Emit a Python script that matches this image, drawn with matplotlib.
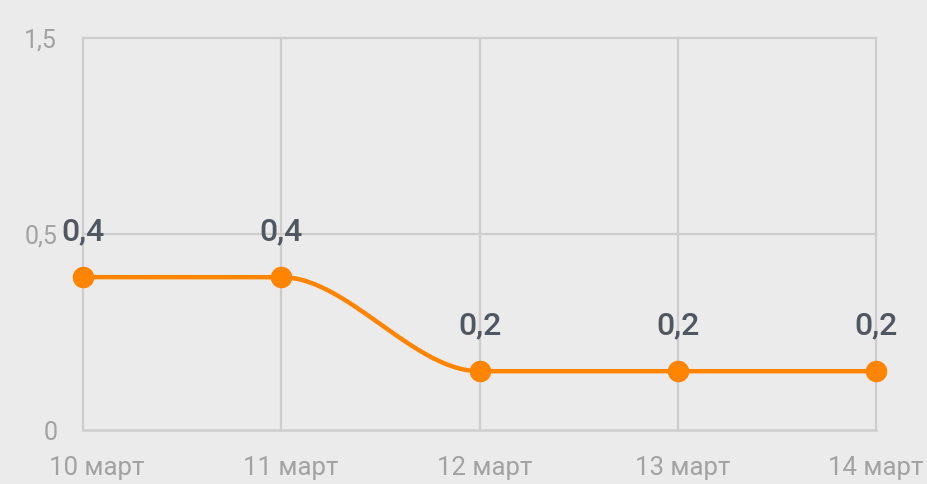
# line chart: daily values for 10-14 march with a smooth monotone curve

import numpy as np
import matplotlib
matplotlib.use("Agg")
import matplotlib.pyplot as plt
from matplotlib.transforms import ScaledTranslation

# data
days = ["10 март", "11 март", "12 март", "13 март", "14 март"]
values = [0.39, 0.39, 0.15, 0.15, 0.15]
value_labels = ["0,4", "0,4", "0,2", "0,2", "0,2"]
y_ticks = [0, 0.5, 1.5]
y_tick_labels = ["0", "0,5", "1,5"]

BG = "#ebebeb"
GRID = "#cdcdcd"
TICK = "#a2a2a2"
LABEL = "#505760"
ORANGE = "#ff8400"


# monotone cubic curve through the points (same idea as d3 curveMonotoneX)
def monotone_curve(x, y, n=60):
    x = np.asarray(x, float)
    y = np.asarray(y, float)
    h = np.diff(x)
    s = np.diff(y) / h
    m = np.zeros(len(x))
    for i in range(1, len(x) - 1):
        p = (s[i - 1] * h[i] + s[i] * h[i - 1]) / (h[i - 1] + h[i])
        m[i] = (np.sign(s[i - 1]) + np.sign(s[i])) * min(abs(s[i - 1]), abs(s[i]), 0.5 * abs(p))
    m[0] = (3 * s[0] - m[1]) / 2
    m[-1] = (3 * s[-1] - m[-2]) / 2
    xs, ys = [], []
    for i in range(len(x) - 1):
        t = np.linspace(0, 1, n)
        h00 = 2 * t**3 - 3 * t**2 + 1
        h10 = t**3 - 2 * t**2 + t
        h01 = -2 * t**3 + 3 * t**2
        h11 = t**3 - t**2
        xs.append(x[i] + t * h[i])
        ys.append(h00 * y[i] + h10 * h[i] * m[i] + h01 * y[i + 1] + h11 * h[i] * m[i + 1])
    return np.concatenate(xs), np.concatenate(ys)


# y axis: 0..0.5 and 0.5..1.5 take the same height
def fwd(v):
    v = np.asarray(v, float)
    return np.where(v <= 0.5, v, 0.5 + (v - 0.5) / 2)


def inv(v):
    v = np.asarray(v, float)
    return np.where(v <= 0.5, v, 0.5 + 2 * (v - 0.5))


plt.rcParams["font.family"] = ["Roboto", "DejaVu Sans"]

fig = plt.figure(figsize=(9.27, 4.84), dpi=100, facecolor=BG)
ax = fig.add_axes([83 / 927, 1 - 430 / 484, 793 / 927, 392 / 484])
ax.set_facecolor(BG)
ax.set_yscale("function", functions=(fwd, inv))

x = np.arange(len(days))
ax.set_xlim(0, len(days) - 1)
ax.set_ylim(0, 1.5)

for s in ax.spines.values():
    s.set_visible(False)

# grid
for xv in x:
    ax.axvline(xv, color=GRID, lw=1.6, zorder=1, clip_on=False)
for yv in y_ticks:
    ax.axhline(yv, color=GRID, lw=1.8 if yv == 0 else 1.6, zorder=1, clip_on=False)

# curve and points
cx, cy = monotone_curve(x, values)
ax.plot(cx, cy, color=ORANGE, lw=3.2, zorder=3, clip_on=False, solid_capstyle="round")
ax.plot(x, values, "o", color=ORANGE, ms=14.5, zorder=4, clip_on=False)

for xi, v, lab in zip(x, values, value_labels):
    ax.annotate(lab, (xi, v), xytext=(0, 26.5), textcoords="offset points",
                ha="center", va="baseline", fontsize=23, fontweight="medium",
                color=LABEL, zorder=5)

# ticks
ax.set_xticks(x)
ax.set_xticklabels(days, fontsize=18.5, color=TICK)
ax.set_yticks(y_ticks)
ax.set_yticklabels(y_tick_labels, fontsize=18, color=TICK)
ax.tick_params(axis="x", length=0, pad=19)
ax.tick_params(axis="y", length=0, pad=18.5)

# the x labels sit a little right of the grid lines, less so towards the end
label_shift = [14, 9, 5, 5, 0]
for lab, dx in zip(ax.get_xticklabels(), label_shift):
    lab.set_transform(lab.get_transform() + ScaledTranslation(dx / 100, 0, fig.dpi_scale_trans))

fig.savefig("out.png", dpi=100, facecolor=BG)
